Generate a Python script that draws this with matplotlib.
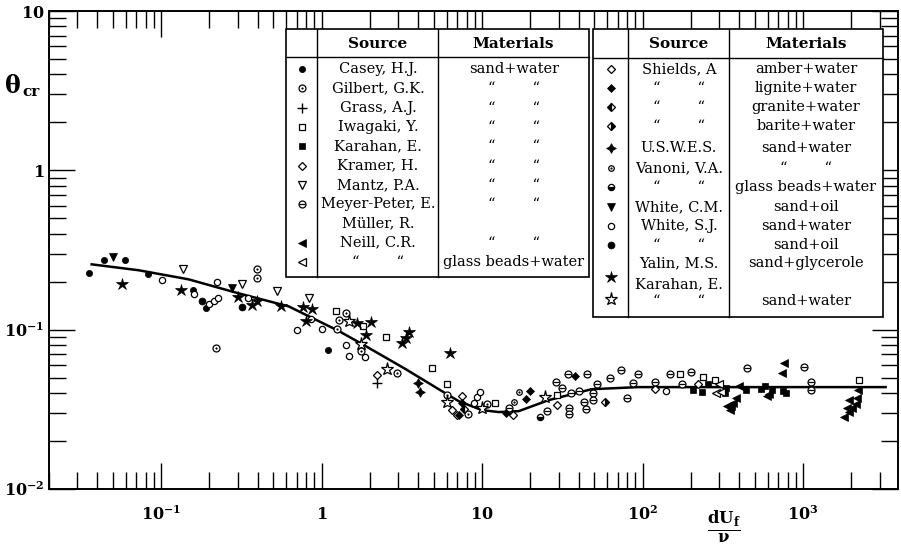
import matplotlib
matplotlib.use('Agg')
import matplotlib.pyplot as plt
from matplotlib.ticker import FixedLocator, LogLocator, NullFormatter
from matplotlib.patches import Rectangle

plt.rcParams['font.family'] = 'DejaVu Serif'
plt.rcParams['mathtext.fontset'] = 'dejavuserif'

# ---- data (dU_f/nu, theta_cr) ----
curve_x = [0.0369, 0.0724, 0.148, 0.304, 0.623, 1.28, 1.75, 3.34, 5.36, 7.14,
           9.93, 12.7, 16.9, 25.9, 48.1, 94.4, 3265]
curve_y = [0.257, 0.236, 0.207, 0.169, 0.140, 0.098, 0.0822, 0.0565, 0.0423,
           0.0356, 0.0313, 0.0304, 0.0308, 0.0361, 0.0423, 0.0436, 0.0436]

casey_x = [0.0353, 0.0438, 0.0593, 0.0824, 0.157, 0.189, 1.09]
casey_y = [0.226, 0.273, 0.273, 0.223, 0.177, 0.136, 0.0743]

gilbert_x = [0.219, 0.394, 0.394, 1.28, 1.24, 1.41, 1.75, 2.93, 6.01, 8.13, 10.7]
gilbert_y = [0.0766, 0.239, 0.210, 0.115, 0.101, 0.127, 0.0733, 0.0534, 0.0388,
             0.0295, 0.0341]

grass_x = [2.20]
grass_y = [0.0462]

iwagaki_x = [1.22, 1.80, 2.50, 4.84, 6.01, 12.1, 29.1, 170, 237, 281, 2218]
iwagaki_y = [0.131, 0.105, 0.0897, 0.0574, 0.0455, 0.0346, 0.0388, 0.0526,
             0.0504, 0.0482, 0.0482]

karahan_sq_x = [205, 233, 254, 324, 329, 439, 543, 576, 637, 745, 778]
karahan_sq_y = [0.0417, 0.0406, 0.0455, 0.0400, 0.0430, 0.0417, 0.0423, 0.0442,
                0.0417, 0.0411, 0.0400]

kramer_x = [2.20, 6.46, 6.94, 15.5, 29.1, 120, 220]
kramer_y = [0.0519, 0.0313, 0.0291, 0.0291, 0.0336, 0.0423, 0.0455]

mantz_x = [0.136, 0.318, 0.524, 0.830]
mantz_y = [0.239, 0.193, 0.174, 0.158]

meyer_x = [14.8, 25.2, 28.7, 31.3, 34.1, 44.8, 35.6, 34.6, 34.6, 39.9,
           42.9, 44.2, 48.8, 48.8, 51.7, 62.3, 72.9, 79.4, 86.6, 93.1,
           119, 149, 175, 199, 445, 1007, 1114, 1114]
meyer_y = [0.0322, 0.0308, 0.0469, 0.0430, 0.0526, 0.0526, 0.0400, 0.0322, 0.0295, 0.0411,
           0.0351, 0.0318, 0.0400, 0.0361, 0.0455, 0.0497, 0.0557, 0.0372, 0.0462, 0.0526,
           0.0469, 0.0526, 0.0455, 0.0541, 0.0574, 0.0582, 0.0469, 0.0417]

neill_x = [396, 380, 364, 353, 334, 348, 593, 610, 756, 735,
           2188, 2153, 2123, 1919, 2005, 1866, 1919, 1787]
neill_y = [0.0442, 0.0372, 0.0346, 0.0331, 0.0331, 0.0313, 0.0383, 0.0394, 0.0617, 0.0534,
           0.0417, 0.0372, 0.0341, 0.0361, 0.0322, 0.0322, 0.0304, 0.0283]

neill_gb_x = [298, 285, 306]
neill_gb_y = [0.0455, 0.0400, 0.0408]

sh_amber_x = [7.45]
sh_amber_y = [0.0383]
sh_lignite_x = [7.14, 7.45, 14.0, 18.7, 20.0, 37.7]
sh_lignite_y = [0.0291, 0.0346, 0.0299, 0.0367, 0.0411, 0.0511]
sh_granite_x = [7.67]
sh_granite_y = [0.0318]
sh_barite_x = [58.0]
sh_barite_y = [0.0351]

uswes_x = [3.96, 4.08]
uswes_y = [0.0462, 0.0406]

vanoni_x = [16.9, 15.9]
vanoni_y = [0.0406, 0.0351]
vanoni_gb_x = [22.8]
vanoni_gb_y = [0.0283]

white_cm_x = [0.0499, 0.275]
white_cm_y = [0.285, 0.182]

white_sj_x = [0.1007, 0.159, 0.198, 0.212, 0.225, 0.222, 0.346, 0.699, 0.854, 1.00,
              1.47, 1.41, 1.85, 8.85, 9.25, 9.64, 139]
white_sj_y = [0.204, 0.167, 0.145, 0.151, 0.158, 0.199, 0.158, 0.0993, 0.116, 0.101,
              0.0682, 0.0800, 0.0672, 0.0346, 0.0377, 0.0406, 0.0411]
white_sj_oil_x = [0.179, 0.318]
white_sj_oil_y = [0.151, 0.138]

yalin_x = [0.0568, 0.132, 0.300, 0.366, 0.394, 0.555, 0.762, 0.867, 0.795, 1.65,
           2.02, 1.88, 3.15, 3.34, 3.48, 6.28]
yalin_y = [0.193, 0.177, 0.160, 0.143, 0.151, 0.140, 0.138, 0.134, 0.113, 0.110,
           0.111, 0.0924, 0.0822, 0.0885, 0.0965, 0.0713]

karahan_st_x = [1.47, 1.75, 2.54, 6.01, 9.93, 24.5]
karahan_st_y = [0.113, 0.0811, 0.0565, 0.0351, 0.0322, 0.0377]

x_ticks = [0.1, 1, 10, 100, 1000]
x_ticklabels = [r'$\mathbf{10^{-1}}$', r'$\mathbf{1}$', r'$\mathbf{10}$',
                r'$\mathbf{10^{2}}$', r'$\mathbf{10^{3}}$']
y_ticks = [0.01, 0.1, 1, 10]
y_ticklabels = [r'$\mathbf{10^{-2}}$', r'$\mathbf{10^{-1}}$', r'$\mathbf{1}$',
                r'$\mathbf{10}$']

DITTO = '\u201c        \u201c'

# ---- marker styles ----
OPEN = dict(mfc='white', mec='k', mew=0.9)
FULL = dict(mfc='k', mec='k', mew=0.5)
DOT = dict(marker='o', ms=1.6, mfc='k', mec='k', mew=0)
STYLES = {
    'casey': [dict(marker='o', ms=4.5, **FULL)],
    'gilbert': [dict(marker='o', ms=5, **OPEN), DOT],
    'grass': [dict(marker='+', ms=7, mec='k', mew=1.0)],
    'iwagaki': [dict(marker='s', ms=4.5, **OPEN)],
    'karahan_sq': [dict(marker='s', ms=4.5, **FULL)],
    'kramer': [dict(marker='D', ms=4.2, **OPEN)],
    'mantz': [dict(marker='v', ms=5.5, **OPEN)],
    'meyer': [dict(marker='o', ms=5, **OPEN), dict(marker='_', ms=4, mec='k', mew=0.9)],
    'neill': [dict(marker='<', ms=5.5, **FULL)],
    'neill_gb': [dict(marker='<', ms=5.5, **OPEN)],
    'sh_amber': [dict(marker='D', ms=3.6, **OPEN)],
    'sh_lignite': [dict(marker='D', ms=4.2, **FULL)],
    'sh_granite': [dict(marker='D', ms=4.2, fillstyle='left', mfcalt='white', mfc='k', mec='k', mew=0.9)],
    'sh_barite': [dict(marker='D', ms=4.2, fillstyle='right', mfcalt='white', mfc='k', mec='k', mew=0.9)],
    'uswes': [dict(marker=(4, 1, 0), ms=7, **FULL)],
    'vanoni': [dict(marker='o', ms=4, **OPEN), DOT],
    'vanoni_gb': [dict(marker='o', ms=4.5, fillstyle='bottom', mfcalt='white', mfc='k', mec='k', mew=0.9)],
    'white_cm': [dict(marker='v', ms=5.5, **FULL)],
    'white_sj': [dict(marker='o', ms=4.5, **OPEN)],
    'white_sj_oil': [dict(marker='o', ms=5, **FULL)],
    'yalin': [dict(marker='*', ms=9, **FULL)],
    'karahan_st': [dict(marker='*', ms=9.5, **OPEN)],
}

SERIES = [
    ('casey', casey_x, casey_y), ('gilbert', gilbert_x, gilbert_y),
    ('grass', grass_x, grass_y), ('iwagaki', iwagaki_x, iwagaki_y),
    ('karahan_sq', karahan_sq_x, karahan_sq_y), ('kramer', kramer_x, kramer_y),
    ('mantz', mantz_x, mantz_y), ('meyer', meyer_x, meyer_y),
    ('neill', neill_x, neill_y), ('neill_gb', neill_gb_x, neill_gb_y),
    ('sh_amber', sh_amber_x, sh_amber_y), ('sh_lignite', sh_lignite_x, sh_lignite_y),
    ('sh_granite', sh_granite_x, sh_granite_y), ('sh_barite', sh_barite_x, sh_barite_y),
    ('uswes', uswes_x, uswes_y), ('vanoni', vanoni_x, vanoni_y),
    ('vanoni_gb', vanoni_gb_x, vanoni_gb_y), ('white_cm', white_cm_x, white_cm_y),
    ('white_sj', white_sj_x, white_sj_y), ('white_sj_oil', white_sj_oil_x, white_sj_oil_y),
    ('yalin', yalin_x, yalin_y), ('karahan_st', karahan_st_x, karahan_st_y),
]


def draw_marker(ax, x, y, key, **kw):
    for st in STYLES[key]:
        ax.plot(x, y, linestyle='none', **st, **kw)


fig = plt.figure(figsize=(9.01, 5.5), dpi=100)
ax = fig.add_axes([49 / 901, 1 - 489 / 550, 849 / 901, 478 / 550])
ax.set_xscale('log')
ax.set_yscale('log')
ax.set_xlim(0.02, 3900)
ax.set_ylim(0.01, 10)

ax.plot(curve_x, curve_y, color='k', lw=1.8, zorder=2)
for key, xs, ys in SERIES:
    draw_marker(ax, xs, ys, key, zorder=3)

ax.xaxis.set_major_locator(FixedLocator(x_ticks))
ax.xaxis.set_minor_locator(LogLocator(base=10, subs=range(2, 10), numticks=20))
ax.xaxis.set_minor_formatter(NullFormatter())
ax.set_xticklabels(x_ticklabels)
ax.yaxis.set_major_locator(FixedLocator(y_ticks))
ax.yaxis.set_minor_locator(LogLocator(base=10, subs=range(2, 10), numticks=20))
ax.yaxis.set_minor_formatter(NullFormatter())
ax.set_yticklabels(y_ticklabels)
ax.tick_params(which='both', direction='in', top=True, right=True, width=1.0)
ax.tick_params(which='major', length=18.5)
ax.tick_params(which='minor', length=12)
ax.tick_params(axis='x', pad=12, labelsize=11.5)
ax.tick_params(axis='y', pad=3, labelsize=11.5)
for sp in ax.spines.values():
    sp.set_linewidth(1.4)

fig.text(5 / 901, 1 - 86 / 550, '\u03b8', fontsize=17, fontweight='bold', va='center')
fig.text(22 / 901, 1 - 92 / 550, 'cr', fontsize=11, fontweight='bold', va='center')
fig.text(724 / 901, 1 - 527 / 550, r'$\frac{\mathbf{dU_f}}{\mathbf{\nu}}$', fontsize=17,
         ha='center', va='center')

# ---- the two legend tables (drawn in pixel space) ----
ov = fig.add_axes([0, 0, 1, 1], zorder=5)
ov.set_xlim(0, 901)
ov.set_ylim(550, 0)
ov.axis('off')
ov.patch.set_alpha(0)


def table_frame(x0, x1, y0, y1, ylh, xc1, xc2):
    ov.add_patch(Rectangle((x0, y0), x1 - x0, y1 - y0, fc='white', ec='k', lw=1.2))
    ov.plot([x0, x1], [ylh, ylh], color='k', lw=1.0)
    ov.plot([xc1, xc1], [y0, y1], color='k', lw=1.0)
    ov.plot([xc2, xc2], [y0, y1], color='k', lw=1.0)
    ov.text((xc1 + xc2) / 2, (y0 + ylh) / 2 + 1, 'Source', ha='center', va='center',
            fontsize=11, fontweight='bold')
    ov.text((xc2 + x1) / 2, (y0 + ylh) / 2 + 1, 'Materials', ha='center', va='center',
            fontsize=11, fontweight='bold')


FS = 10.5
left_rows = [
    ('casey', 'Casey, H.J.', 'sand+water'),
    ('gilbert', 'Gilbert, G.K.', DITTO),
    ('grass', 'Grass, A.J.', DITTO),
    ('iwagaki', 'Iwagaki, Y.', DITTO),
    ('karahan_sq', 'Karahan, E.', DITTO),
    ('kramer', 'Kramer, H.', DITTO),
    ('mantz', 'Mantz, P.A.', DITTO),
    ('meyer', 'Meyer-Peter, E.', DITTO),
    (None, 'M\u00fcller, R.', ''),
    ('neill', 'Neill, C.R.', DITTO),
    ('neill_gb', DITTO, 'glass beads+water'),
]
table_frame(286, 589, 29, 277, 57, 317, 438)
for i, (key, src, mat) in enumerate(left_rows):
    yy = 69 + 19.3 * i
    if key:
        draw_marker(ov, [302], [yy], key)
    ov.text(378, yy, src, ha='center', va='center', fontsize=FS)
    ov.text(514, yy, mat, ha='center', va='center', fontsize=FS)

right_rows = [
    ('sh_amber', 69, 'Shields, A', 'amber+water'),
    ('sh_lignite', 88, DITTO, 'lignite+water'),
    ('sh_granite', 107, DITTO, 'granite+water'),
    ('sh_barite', 126, DITTO, 'barite+water'),
    ('uswes', 148, 'U.S.W.E.S.', 'sand+water'),
    ('vanoni', 168, 'Vanoni, V.A.', DITTO),
    ('vanoni_gb', 187, DITTO, 'glass beads+water'),
    ('white_cm', 207, 'White, C.M.', 'sand+oil'),
    ('white_sj', 226, 'White, S.J.', 'sand+water'),
    ('white_sj_oil', 245, DITTO, 'sand+oil'),
    (None, 263, 'Yalin, M.S.', 'sand+glycerole'),
    (None, 284, 'Karahan, E.', ''),
    (None, 301, DITTO, 'sand+water'),
]
table_frame(593, 883, 29, 317, 58, 628, 729)
for key, yy, src, mat in right_rows:
    if key:
        draw_marker(ov, [611], [yy], key)
    ov.text(679, yy, src, ha='center', va='center', fontsize=FS)
    ov.text(806, yy, mat, ha='center', va='center', fontsize=FS)
draw_marker(ov, [611], [277], 'yalin')
draw_marker(ov, [611], [299], 'karahan_st')

fig.savefig('out.png', dpi=100)
